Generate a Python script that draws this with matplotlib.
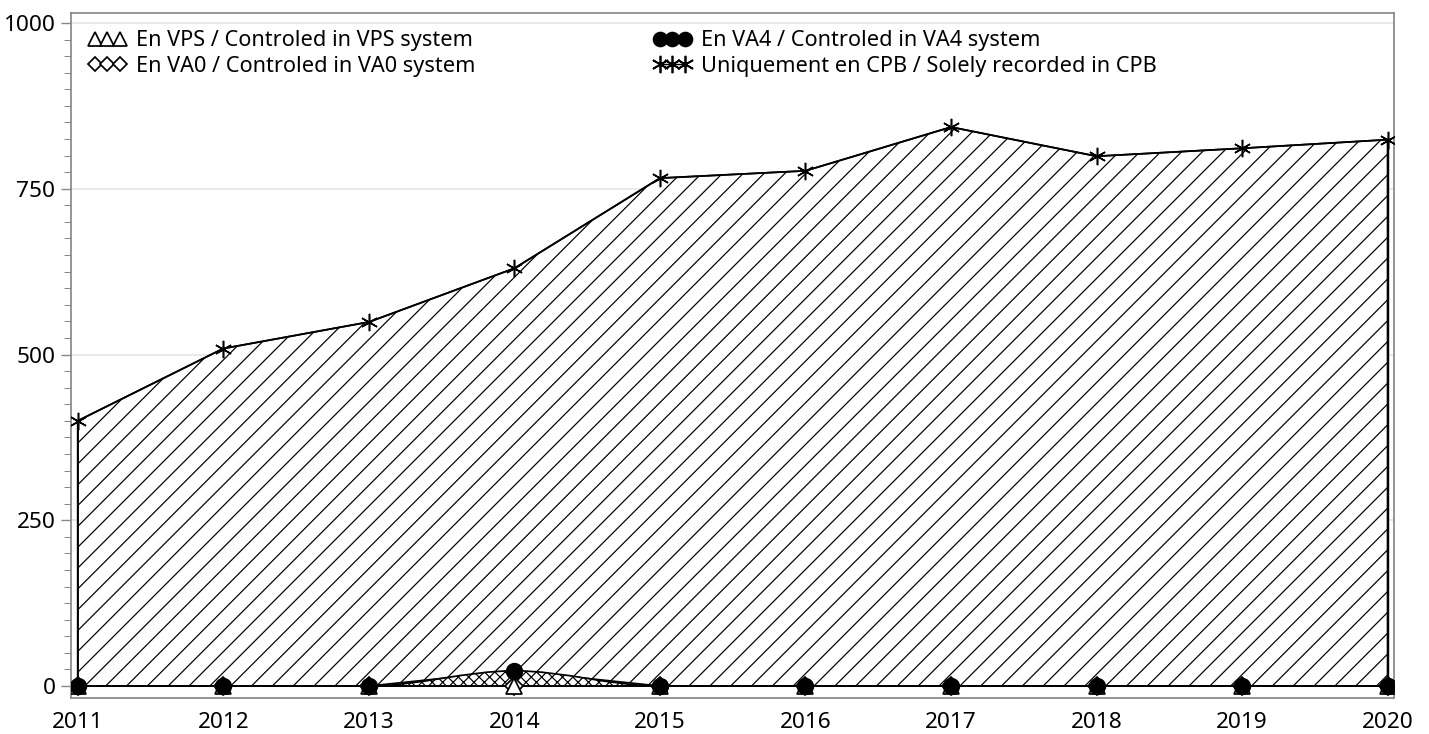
import numpy as np
import matplotlib
matplotlib.use("Agg")
import matplotlib.pyplot as plt
from matplotlib.path import Path
from matplotlib.patches import PathPatch
from matplotlib.lines import Line2D

plt.rcParams['font.family'] = ['Noto Sans', 'DejaVu Sans']
plt.rcParams['hatch.linewidth'] = 0.7

years = [2011, 2012, 2013, 2014, 2015, 2016, 2017, 2018, 2019, 2020]
vps = [0, 0, 0, 0, 0, 0, 0, 0, 0, 0]
va0 = [0, 0, 0, 0, 0, 0, 0, 0, 0, 0]
va4 = [0, 0, 0, 23, 0, 0, 0, 0, 0, 0]
cpb = [400, 509, 549, 607, 766, 777, 843, 799, 811, 824]

labels = ['En VPS / Controled in VPS system',
          'En VA0 / Controled in VA0 system',
          'En VA4 / Controled in VA4 system',
          'Uniquement en CPB / Solely recorded in CPB']


def smooth_path(x, lo, hi):
    # closed area, bezier segments with flat tangents at each point
    verts = [(x[0], hi[0])]
    codes = [Path.MOVETO]
    for i in range(len(x) - 1):
        d = (x[i + 1] - x[i]) / 3
        verts += [(x[i] + d, hi[i]), (x[i + 1] - d, hi[i + 1]), (x[i + 1], hi[i + 1])]
        codes += [Path.CURVE4] * 3
    verts.append((x[-1], lo[-1]))
    codes.append(Path.LINETO)
    for i in range(len(x) - 1, 0, -1):
        d = (x[i] - x[i - 1]) / 3
        verts += [(x[i] - d, lo[i]), (x[i - 1] + d, lo[i - 1]), (x[i - 1], lo[i - 1])]
        codes += [Path.CURVE4] * 3
    verts.append(verts[0])
    codes.append(Path.CLOSEPOLY)
    return Path(verts, codes)


x = np.array(years, dtype=float)
s1 = np.array(vps, dtype=float)
s2 = s1 + np.array(va0)
s3 = s2 + np.array(va4)
s4 = s3 + np.array(cpb)

fig = plt.figure(figsize=(1429 / 125, 734 / 125), dpi=125)
ax = fig.add_axes([71 / 1429, 1 - 698 / 734, (1394 - 71) / 1429, (698 - 13) / 734])

# CPB area (hatched)
ax.fill_between(x, s3, s4, facecolor='white', edgecolor='black', hatch='//', linewidth=1.0, zorder=2)
ax.plot(x, s4, color='black', lw=1.0, zorder=3)
ax.plot([x[-1], x[-1]], [s3[-1], s4[-1]], color='black', lw=1.4, zorder=3)
ax.plot([x[0], x[0]], [s3[0], s4[0]], color='black', lw=1.0, zorder=3)

# VA4 area (cross hatched, smooth)
ax.add_patch(PathPatch(smooth_path(x, s2, s3), facecolor='white', edgecolor='black',
                       hatch='xxxx', linewidth=1.0, zorder=4))
ax.plot(x, s1, color='black', lw=1.0, zorder=4)

# markers
ax.plot(x, s2, ls='none', marker='D', ms=7, mfc='white', mec='black', mew=1.0, zorder=5)
ax.plot(x, s1, ls='none', marker='^', ms=9, mfc='white', mec='black', mew=1.0, zorder=6)
ax.plot(x, s3, ls='none', marker='o', ms=9, mfc='black', mec='black', zorder=7)
ax.plot(x, s4, ls='none', marker=(6, 2, 0), ms=10, color='black', mew=0.9, zorder=7)

ax.set_xlim(2010.954, 2020.043)
ax.set_ylim(-18, 1015)
ax.set_xticks(years)
ax.set_xticklabels([str(y) for y in years])
ax.set_yticks([0, 250, 500, 750, 1000])
ax.set_yticks(np.arange(0, 1001, 25), minor=True)
ax.tick_params(axis='x', length=0, labelsize=13, pad=8)
ax.tick_params(axis='y', which='major', length=6, color='#888888', labelsize=13, pad=3)
ax.tick_params(axis='y', which='minor', length=4, color='#888888')
ax.grid(axis='y', which='major', color='#e6e6e6', lw=1.0, zorder=0)
ax.set_axisbelow(True)
for sp in ax.spines.values():
    sp.set_color('#888888')
    sp.set_linewidth(1.0)

handles = [
    Line2D([], [], ls='none', marker='^', ms=8, mfc='white', mec='black'),
    Line2D([], [], color='black', lw=0.8, marker='D', ms=6, mfc='white', mec='black'),
    Line2D([], [], color='black', lw=0.8, marker='o', ms=8, mfc='black', mec='black'),
    Line2D([], [], color='black', lw=0.8, marker=(6, 2, 0), ms=10, mec='black'),
]
ax.legend(handles, labels, ncol=2, loc='upper left', bbox_to_anchor=(0.0, 1.0),
          frameon=False, numpoints=3, handlelength=1.75, handletextpad=0.45,
          columnspacing=8.2, fontsize=12.5, labelspacing=0.2, borderaxespad=0.6,
          borderpad=0.2)

fig.savefig('out.png', dpi=125)
